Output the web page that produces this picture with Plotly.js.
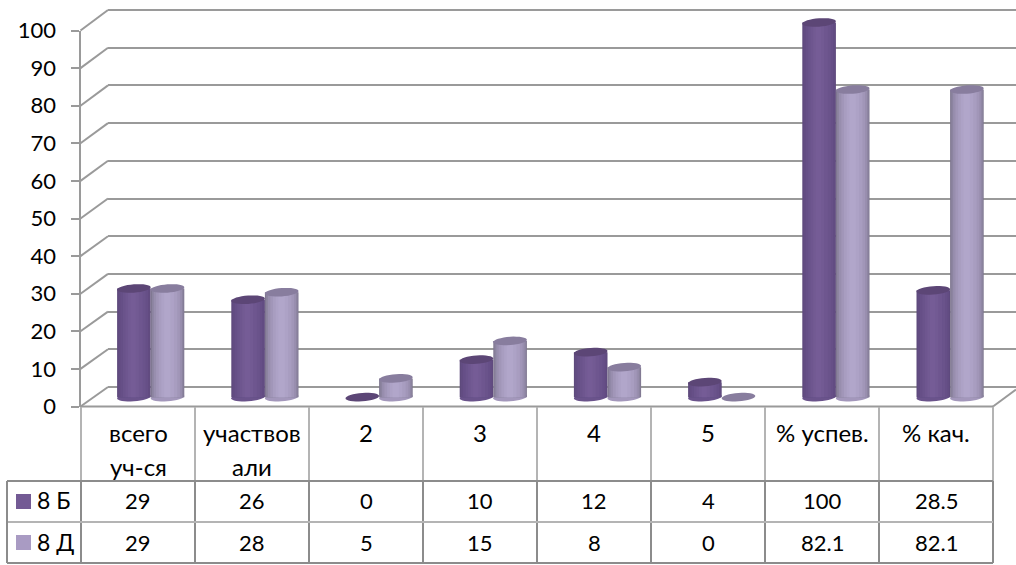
<!DOCTYPE html>
<html><head><meta charset="utf-8">
<script src="https://cdn.plot.ly/plotly-3.0.1.min.js"></script>
<style>html,body{margin:0;padding:0;background:#fff}</style></head>
<body><div id="chart" style="width:1016px;height:565px"></div>
<script>
const categories = ["всего\nуч-ся", "участвов\nали", "2", "3", "4", "5", "% успев.", "% кач."];
const seriesNames = ["8 Б", "8 Д"];
const values8B = [29, 26, 0, 10, 12, 4, 100, 28.5];
const values8D = [29, 28, 5, 15, 8, 0, 82.1, 82.1];
const tableText8B = ["29", "26", "0", "10", "12", "4", "100", "28.5"];
const tableText8D = ["29", "28", "5", "15", "8", "0", "82.1", "82.1"];
const yTicks = [0, 10, 20, 30, 40, 50, 60, 70, 80, 90, 100];

const W = 1016, H = 565, FONT = "Lato, Carlito, sans-serif", TXT = "#000000";
const GRID = "#9a9a9a", TBL = "#b4b4b4", TBLD = "#8c8c8c";
const px = v => v / W, py = v => 1 - v / H;

const unit = 3.77, pad = 6, backPad = 2;
const FRONT_X = 80.5, BACK_X = 108, FRONT_Y0 = 406.5, FRONT_U = 3.76, BACK_Y0 = 387, BACK_U = 3.77;
const BAR_Y0 = 397, PITCH = 114.2, FIRST = 150.7, R = 16.8;
const colL = 81, colW = 114;

const layout = {
  width: W, height: H, autosize: false, showlegend: false, barmode: "overlay",
  margin: {l: 0, r: 0, t: 0, b: 0}, paper_bgcolor: "#fff", plot_bgcolor: "rgba(0,0,0,0)",
  font: {family: FONT, color: TXT},
  hovermode: false,
  xaxis: {domain: [px(FRONT_X), px(993)], range: [0, 1], visible: false, fixedrange: true},
  yaxis: {domain: [py(FRONT_Y0), py(FRONT_Y0 - 100 * FRONT_U)], range: [0, 100], tickvals: yTicks,
    ticks: "outside", ticklen: 8, tickwidth: 2, tickcolor: GRID, showline: true, linecolor: GRID, linewidth: 2,
    showgrid: false, zeroline: false, tickfont: {size: 22, family: FONT, color: TXT}, ticklabelstandoff: 10, fixedrange: true},
  xaxis2: {domain: [px(BACK_X), 1], range: [0, 1], visible: false, anchor: "y2", fixedrange: true},
  yaxis2: {domain: [py(BACK_Y0 + backPad * BACK_U), py(BACK_Y0 - (100 + backPad) * BACK_U)], range: [-backPad, 100 + backPad], tickvals: yTicks, anchor: "x2",
    showgrid: true, gridcolor: GRID, gridwidth: 2, zeroline: false, showticklabels: false, ticks: "", showline: false, fixedrange: true},
  xaxis3: {domain: [px(FIRST - PITCH / 2), px(FIRST + 7.5 * PITCH)], range: [-0.5, 7.5], visible: false, anchor: "y3", fixedrange: true},
  yaxis3: {domain: [py(BAR_Y0 + pad * unit), py(BAR_Y0 - (100 + pad) * unit)], range: [-pad, 100 + pad], visible: false, anchor: "x3", fixedrange: true},
  shapes: [], annotations: []
};

const line = (x0, y0, x1, y1, color, width) => layout.shapes.push({type: "line", xref: "paper", yref: "paper",
  x0: px(x0), y0: py(y0), x1: px(x1), y1: py(y1), line: {color, width}, layer: "below"});

yTicks.forEach(t => line(FRONT_X, FRONT_Y0 - t * FRONT_U, BACK_X, BACK_Y0 - t * BACK_U, GRID, 2));
line(FRONT_X, FRONT_Y0, 993, FRONT_Y0, GRID, 2);
line(993, FRONT_Y0, 1016, FRONT_Y0 - 17, GRID, 2);

const rowY = [407, 481, 522, 563];
for (let c = 0; c <= 8; c++) {
  const x = colL + c * colW;
  line(x, rowY[0], x, rowY[1], TBL, 2);
  line(x, rowY[1], x, rowY[3], TBLD, 2);
}
line(7, rowY[1], colL + 8 * colW, rowY[1], TBLD, 2);
line(7, rowY[2], colL + 8 * colW, rowY[2], TBL, 2);
line(7, rowY[3], colL + 8 * colW, rowY[3], TBLD, 2);
line(7, rowY[1], 7, rowY[3], TBLD, 2);

const note = (text, x, y, size, anchor) => layout.annotations.push({text, x: px(x), y: py(y), xref: "paper", yref: "paper",
  showarrow: false, xanchor: anchor || "center", yanchor: "middle", font: {size: size || 22, family: FONT, color: TXT}});

categories.forEach((c, i) => {
  const cx = colL + (i + 0.5) * colW, parts = c.split("\n");
  note(parts[0], cx, 433, 24);
  if (parts[1]) note(parts[1], cx, 466, 24);
  note(tableText8B[i], cx, 500);
  note(tableText8D[i], cx, 542);
});
note(seriesNames[0], 35, 500, 23, "left");
note(seriesNames[1], 35, 542, 23, "left");

const swatch = (y0, color) => layout.shapes.push({type: "rect", xref: "paper", yref: "paper",
  x0: px(16), x1: px(31), y0: py(y0), y1: py(y0 + 15), fillcolor: color, line: {width: 0}});
swatch(494, "#735A94");
swatch(535, "#A99BC3");

const bandsB = [[-1, 1, "#5e4a7c"], [-0.93, 0.95, "#624c82"], [-0.8, 0.84, "#664f87"], [-0.65, 0.7, "#6a538b"], [-0.5, 0.52, "#6e568f"], [-0.35, 0.3, "#725a93"], [-0.2, 0.12, "#755c96"]];
const bandsD = [[-1, 1, "#7f7790"], [-0.93, 0.95, "#8c84a0"], [-0.82, 0.86, "#988eae"], [-0.68, 0.74, "#a196b8"], [-0.52, 0.58, "#a89dc0"], [-0.36, 0.38, "#ada2c6"], [-0.2, 0.18, "#b1a6ca"]];

const xs = categories.map((_, i) => i);
const ru = R / PITCH;
const data = [
  {type: "scatter", x: [0, 1], y: [0, 100], xaxis: "x", yaxis: "y", mode: "none", showlegend: false, hoverinfo: "skip"},
  {type: "scatter", x: [0, 1], y: [0, 100], xaxis: "x2", yaxis: "y2", mode: "none", showlegend: false, hoverinfo: "skip"}
];
const addSeries = (vals, name, center, bands) => {
  bands.forEach(b => data.push({
    type: "bar", name, x: xs, y: vals, xaxis: "x3", yaxis: "y3", showlegend: false,
    width: ru * (b[1] - b[0]), offset: center + ru * b[0],
    marker: {color: b[2], line: {width: 0}}, hoverinfo: "skip"
  }));
};
addSeries(values8B, seriesNames[0], -ru, bandsB);
addSeries(values8D, seriesNames[1], ru, bandsD);

const ellipse = (xc, v, color, layer) => {
  const pts = [];
  for (let k = 0; k < 32; k++) {
    const a = k / 32 * 2 * Math.PI;
    const dx = Math.cos(a), dy = Math.sin(a);
    pts.push((xc + ru * dx).toFixed(4) + "," + (v + (4.2 * dy + 1.2 * dx) / unit).toFixed(3));
  }
  layout.shapes.push({type: "path", xref: "x3", yref: "y3", path: "M" + pts.join("L") + "Z",
    fillcolor: color, line: {width: 0}, layer});
};
values8B.forEach((v, i) => {
  if (v > 0) ellipse(i - ru, 0, "#6a538b", "below");
  ellipse(i - ru, v, "#5c4676", "above");
});
values8D.forEach((v, i) => {
  if (v > 0) ellipse(i + ru, 0, "#a397bb", "below");
  ellipse(i + ru, v, "#887d9e", "above");
});

Plotly.newPlot("chart", data, layout, {displayModeBar: false, staticPlot: true});
</script></body></html>
